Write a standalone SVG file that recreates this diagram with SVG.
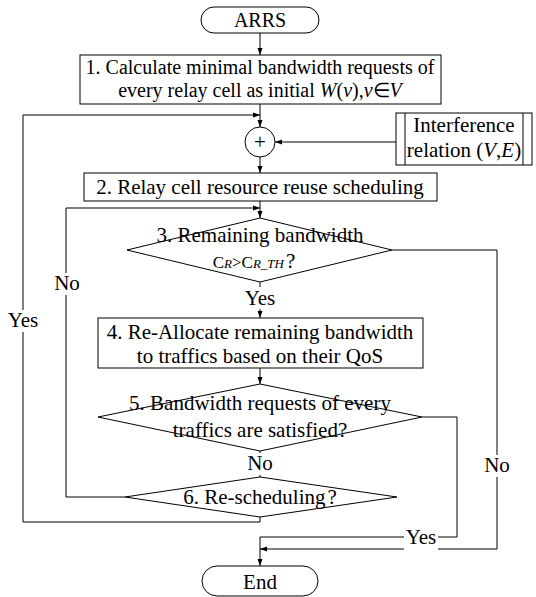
<svg xmlns="http://www.w3.org/2000/svg" width="536" height="597" viewBox="0 0 536 597">
<style>
.s{fill:#fff;stroke:#000;stroke-width:1}
.l{fill:none;stroke:#000;stroke-width:1}
.t{font-family:"Liberation Serif","Times New Roman",serif;font-size:21px;fill:#000;text-anchor:middle}
.t20{font-size:20px}
.i{font-style:italic}
.sm{font-size:13px;font-style:italic}
.bg{fill:#fff;stroke:none}
</style>
<defs>
<marker id="a" markerWidth="8" markerHeight="8" refX="7" refY="4" orient="auto" markerUnits="userSpaceOnUse">
<path d="M0,1.5 L7,4 L0,6.5 Z" fill="#000"/>
</marker>
</defs>
<g id="connectors">
<path class="l" d="M260,33 V55" marker-end="url(#a)"/>
<path class="l" d="M260,104 V127" marker-end="url(#a)"/>
<path class="l" d="M396,142 H275" marker-end="url(#a)"/>
<path class="l" d="M260,157 V173" marker-end="url(#a)"/>
<path class="l" d="M260,201 V218" marker-end="url(#a)"/>
<path class="l" d="M260,282 V318" marker-end="url(#a)"/>
<path class="l" d="M260,368 V384" marker-end="url(#a)"/>
<path class="l" d="M260,451 V477"/>
<path class="l" d="M125,497 H66 V208 H260" marker-end="url(#a)"/>
<path class="l" d="M260,517 V522 H23 V115 H260" marker-end="url(#a)"/>
<path class="l" d="M392,250 H497 V549 H260" marker-end="url(#a)"/>
<path class="l" d="M422,417 H457 V537 H260 V566" marker-end="url(#a)"/>
</g>
<g id="labels">
<rect class="bg" x="242" y="287" width="36" height="22"/>
<text class="t" x="260" y="305">Yes</text>
<rect class="bg" x="246" y="453" width="28" height="22"/>
<text class="t" x="260" y="470">No</text>
<rect class="bg" x="53" y="273" width="28" height="22"/>
<text class="t" x="67" y="290">No</text>
<rect class="bg" x="5" y="310" width="36" height="22"/>
<text class="t" x="23" y="327">Yes</text>
<rect class="bg" x="483" y="455" width="28" height="22"/>
<text class="t" x="497" y="472">No</text>
<rect class="bg" x="404" y="526" width="34" height="24"/>
<text class="t" x="421" y="544">Yes</text>
</g>
<g id="start">
<rect class="s" x="201" y="7" width="118" height="26" rx="13"/>
<text class="t t20" x="260" y="27">ARRS</text>
</g>
<g id="step1">
<rect class="s" x="80" y="55" width="361" height="49"/>
<text class="t t20" x="260" y="74">1. Calculate minimal bandwidth requests of</text>
<text class="t t20" x="260" y="97">every relay cell as initial <tspan class="i">W</tspan>(<tspan class="i">v</tspan>),<tspan class="i">v</tspan>∈<tspan class="i">V</tspan></text>
</g>
<g id="merge">
<circle class="s" cx="260" cy="142" r="15"/>
<text class="t" x="260" y="149" style="font-size:21px">+</text>
</g>
<g id="interference">
<rect class="s" x="396" y="113" width="136" height="52"/>
<path class="l" d="M405,113 V165 M523,113 V165"/>
<text class="t" x="464" y="132">Interference</text>
<text class="t" x="464" y="157">relation (<tspan class="i">V</tspan>,<tspan class="i">E</tspan>)</text>
</g>
<g id="step2">
<rect class="s" x="84" y="173" width="353" height="28"/>
<text class="t" x="260" y="194">2. Relay cell resource reuse scheduling</text>
</g>
<g id="step3">
<path class="s" d="M260,218 L392,250 L260,282 L127,250 Z"/>
<text class="t" x="260" y="242">3. Remaining bandwidth</text>
<text class="t" x="254" y="268" style="font-size:17px">C<tspan class="sm">R</tspan>&gt;C<tspan class="sm">R_TH</tspan><tspan dx="2" style="font-size:21px">?</tspan></text>
</g>
<g id="step4">
<rect class="s" x="98" y="318" width="325" height="50"/>
<text class="t" x="260" y="339">4. Re-Allocate remaining bandwidth</text>
<text class="t" x="260" y="363">to traffics based on their QoS</text>
</g>
<g id="step5">
<path class="s" d="M260,384 L422,417 L260,451 L98,417 Z"/>
<text class="t" x="260" y="410">5. Bandwidth requests of every</text>
<text class="t" x="260" y="437">traffics are satisfied?</text>
</g>
<g id="step6">
<path class="s" d="M260,477 L397,497 L260,517 L125,497 Z"/>
<text class="t" x="260" y="504">6. Re-scheduling<tspan dx="2">?</tspan></text>
</g>
<g id="end">
<rect class="s" x="202" y="566" width="116" height="30" rx="15"/>
<text class="t" x="260" y="589">End</text>
</g>
</svg>
